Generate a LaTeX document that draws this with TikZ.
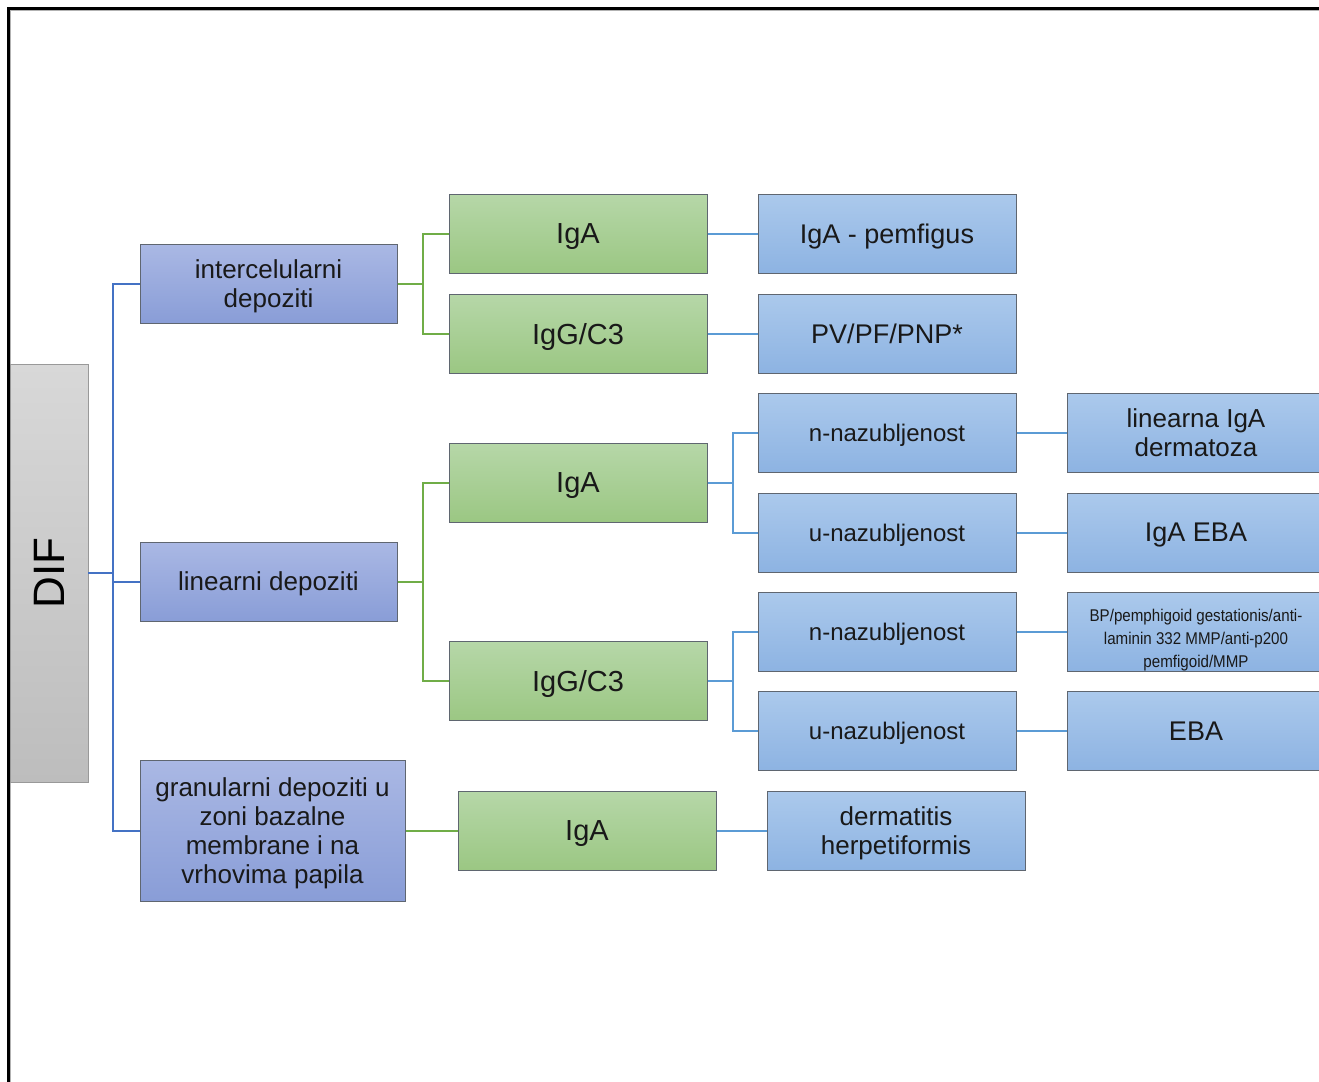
\documentclass[tikz,border=0pt]{standalone}
\usepackage{fontspec}
\setmainfont{Liberation Sans}
\newfontfamily\narrowfont[FakeStretch=0.89]{Liberation Sans}

\definecolor{difTop}{HTML}{D8D8D8}
\definecolor{difBot}{HTML}{BDBDBD}
\definecolor{depoTop}{HTML}{AAB8E4}
\definecolor{depoBot}{HTML}{899DD7}
\definecolor{igTop}{HTML}{B6D7A8}
\definecolor{igBot}{HTML}{9BC783}
\definecolor{dxTop}{HTML}{ABC9EC}
\definecolor{dxBot}{HTML}{8DB3E2}
\definecolor{boxLine}{HTML}{5F6670}
\definecolor{trunkBlue}{HTML}{4472C4}
\definecolor{leafGreen}{HTML}{70AD47}
\definecolor{leafBlue}{HTML}{5B9BD5}

\tikzstyle{root} = [rectangle, rotate=90, minimum width=209pt, minimum height=39pt, inner sep=0pt, top color=difTop, bottom color=difBot, draw=gray!80, line width=0.4pt, font=\fontsize{22}{24}\selectfont]
\tikzstyle{depo} = [rectangle, minimum width=128.5pt, minimum height=39.5pt, inner sep=1pt, text depth=0pt, align=center, text=black!90, top color=depoTop, bottom color=depoBot, draw=boxLine, line width=0.5pt, font=\fontsize{13}{14.4}\selectfont]
\tikzstyle{ig} = [rectangle, minimum width=129pt, minimum height=39.5pt, inner sep=1pt, text depth=0pt, align=center, text=black!90, top color=igTop, bottom color=igBot, draw=boxLine, line width=0.5pt, font=\fontsize{14.5}{16}\selectfont]
\tikzstyle{dx} = [rectangle, minimum width=129pt, minimum height=39.5pt, inner sep=1pt, text depth=0pt, align=center, text=black!90, top color=dxTop, bottom color=dxBot, draw=boxLine, line width=0.5pt, font=\fontsize{13.5}{14.5}\selectfont]
\tikzstyle{trunk} = [trunkBlue, line width=1pt]
\tikzstyle{greenline} = [leafGreen, line width=1pt]
\tikzstyle{blueline} = [leafBlue, line width=1pt]

\begin{document}
\begin{tikzpicture}[x=0.5pt, y=-0.5pt, node distance=154.5pt]
\useasboundingbox (0,0) rectangle (1319,1082);
\clip (0,0) rectangle (1319,1082);
\fill[white] (0,0) rectangle (1319,1082);
% frame
\draw[gray!60, line width=0.6pt] (10.5,1090) -- (10.5,10.5) -- (1330,10.5);
\draw[black, line width=1.5pt] (8,1090) -- (8,8) -- (1330,8);

\node (dif) [root] at (49,573) {DIF};

\node (inter) [depo] at (268.5,283.5) {intercelularni\\depoziti};
\node (lin) [depo] at (268.5,581.5) {linearni depoziti};
\node (gran) [depo, minimum width=132.5pt, minimum height=70.5pt] at (272.5,830.5) {granularni depoziti u\\zoni bazalne\\membrane i na\\vrhovima papila};

\node (iga1) [ig] at (578,233.5) {IgA};
\node (igg1) [ig] at (578,333.5) {IgG/C3};
\node (iga2) [ig] at (578,482.5) {IgA};
\node (igg2) [ig] at (578,681) {IgG/C3};
\node (iga3) [ig] at (587,830.5) {IgA};

\node (pemf) [dx, right of=iga1] {IgA - pemfigus};
\node (pv) [dx, right of=igg1] {PV/PF/PNP*};
\node (n1) [dx, font=\fontsize{12}{13}\selectfont] at (887,432.5) {n-nazubljenost};
\node (u1) [dx, font=\fontsize{12}{13}\selectfont] at (887,532.5) {u-nazubljenost};
\node (n2) [dx, font=\fontsize{12}{13}\selectfont] at (887,631.5) {n-nazubljenost};
\node (u2) [dx, font=\fontsize{12}{13}\selectfont] at (887,731) {u-nazubljenost};
\node (dh) [dx, font=\fontsize{13}{14.5}\selectfont, right of=iga3] {dermatitis\\herpetiformis};

\node (lad) [dx, font=\fontsize{13}{14.5}\selectfont, right of=n1] {linearna IgA\\dermatoza};
\node (igaeba) [dx, right of=u1] {IgA EBA};
\node (bp) [dx, font=\narrowfont\fontsize{8.5}{11.5}\selectfont, right of=n2] {\raisebox{6.5pt}{\begin{tabular}{@{}c@{}}BP/pemphigoid gestationis/anti-\\laminin 332 MMP/anti-p200\\pemfigoid/MMP\end{tabular}}};
\node (eba) [dx, right of=u2] {EBA};

% DIF to deposits
\coordinate (t0) at (113,573);
\draw [trunk] (dif) -- (t0) |- (inter);
\draw [trunk] (t0) |- (lin);
\draw [trunk] (t0) |- (gran);

% deposits to antibodies
\coordinate (g1) at (423,283.5);
\coordinate (g2) at (423,581.5);
\draw [greenline] (inter) -- (g1) |- (iga1);
\draw [greenline] (g1) |- (igg1);
\draw [greenline] (lin) -- (g2) |- (iga2);
\draw [greenline] (g2) |- (igg2);
\draw [greenline] (gran) -- (iga3);

% antibodies to diagnoses
\coordinate (b1) at (733,482.5);
\coordinate (b2) at (733,681);
\draw [blueline] (iga1) -- (pemf);
\draw [blueline] (igg1) -- (pv);
\draw [blueline] (iga2) -- (b1) |- (n1);
\draw [blueline] (b1) |- (u1);
\draw [blueline] (igg2) -- (b2) |- (n2);
\draw [blueline] (b2) |- (u2);
\draw [blueline] (iga3) -- (dh);
\draw [blueline] (n1) -- (lad);
\draw [blueline] (u1) -- (igaeba);
\draw [blueline] (n2) -- (bp);
\draw [blueline] (u2) -- (eba);
\end{tikzpicture}
\end{document}
